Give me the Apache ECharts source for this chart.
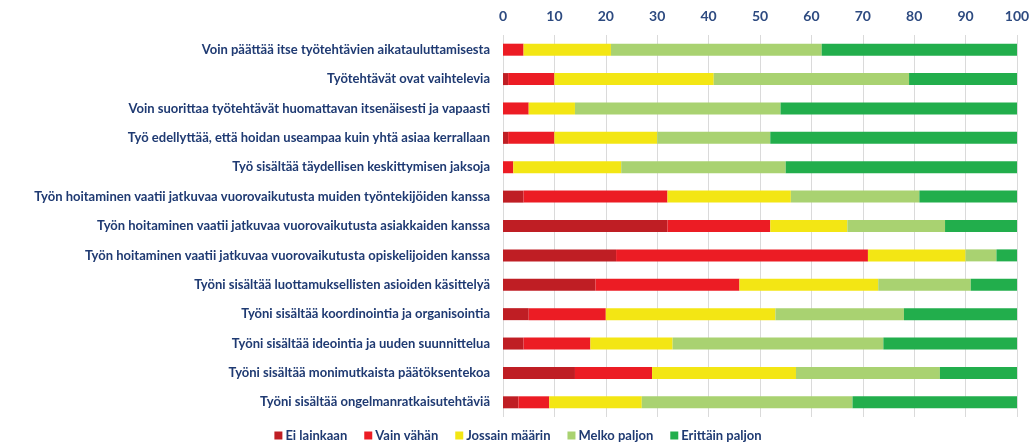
<!DOCTYPE html>
<html>
<head>
<meta charset="utf-8">
<script src="https://cdn.jsdelivr.net/npm/echarts@6/dist/echarts.min.js"></script>
<style>
  html, body { margin: 0; padding: 0; background: #fff; }
  #chart { width: 1036px; height: 447px; }
</style>
</head>
<body>
<div id="chart"></div>
<script>
// väittämät, ylhäältä alas
const statements = [
  'Voin päättää itse työtehtävien aikatauluttamisesta',
  'Työtehtävät ovat vaihtelevia',
  'Voin suorittaa työtehtävät huomattavan itsenäisesti ja vapaasti',
  'Työ edellyttää, että hoidan useampaa kuin yhtä asiaa kerrallaan',
  'Työ sisältää täydellisen keskittymisen jaksoja',
  'Työn hoitaminen vaatii jatkuvaa vuorovaikutusta muiden työntekijöiden kanssa',
  'Työn hoitaminen vaatii jatkuvaa vuorovaikutusta asiakkaiden kanssa',
  'Työn hoitaminen vaatii jatkuvaa vuorovaikutusta opiskelijoiden kanssa',
  'Työni sisältää luottamuksellisten asioiden käsittelyä',
  'Työni sisältää koordinointia ja organisointia',
  'Työni sisältää ideointia ja uuden suunnittelua',
  'Työni sisältää monimutkaista päätöksentekoa',
  'Työni sisältää ongelmanratkaisutehtäviä'
]

const eiLainkaan     = [0, 1, 0, 1, 0, 4, 32, 22, 18, 5, 4, 14, 3]
const vainVahan      = [4, 9, 5, 9, 2, 28, 20, 49, 28, 15, 13, 15, 6]
const jossainMaarin  = [17, 31, 9, 20, 21, 24, 15, 19, 27, 33, 16, 28, 18]
const melkoPaljon    = [41, 38, 40, 22, 32, 25, 19, 6, 18, 25, 41, 28, 41]
const erittainPaljon = [38, 21, 46, 48, 45, 19, 14, 4, 9, 22, 26, 15, 32]

const seriesNames = ['Ei lainkaan', 'Vain vähän', 'Jossain määrin', 'Melko paljon', 'Erittäin paljon']
const seriesData = [eiLainkaan, vainVahan, jossainMaarin, melkoPaljon, erittainPaljon]
const colors = ['#BF1E24', '#EC1C24', '#F3E614', '#A9D271', '#22AE4C']

const navy = '#1F3A72'
const chart = echarts.init(document.getElementById('chart'))

chart.setOption({
  animation: false,
  grid: {
    top: 35,
    bottom: 30,
    left: 503,
    right: 19
  },
  legend: {
    bottom: 0,
    left: 'center',
    itemWidth: 8,
    itemHeight: 8,
    itemGap: 17,
    icon: 'rect',
    textStyle: {
      color: navy,
      fontFamily: 'Lato',
      fontWeight: 'bold',
      fontSize: 13,
      padding: [0, 0, 0, -2]
    },
    data: seriesNames
  },
  xAxis: {
    type: 'value',
    position: 'top',
    min: 0,
    max: 100,
    interval: 10,
    axisLine: { show: false },
    axisTick: { show: false },
    axisLabel: {
      color: '#2D4A80',
      fontFamily: 'Lato',
      fontWeight: 'bold',
      fontSize: 14,
      margin: 12
    },
    splitLine: {
      show: true,
      lineStyle: { color: '#DADADA', width: 1 }
    }
  },
  yAxis: {
    type: 'category',
    inverse: true,
    data: statements,
    axisLine: { show: false },
    axisTick: { show: false },
    axisLabel: {
      color: navy,
      fontFamily: 'Lato',
      fontWeight: 'bold',
      fontSize: 13,
      margin: 13
    }
  },
  series: seriesData.map((d, i) => ({
    name: seriesNames[i],
    type: 'bar',
    stack: 'total',
    barWidth: 12,
    data: d,
    itemStyle: { color: colors[i] }
  }))
})
</script>
</body>
</html>
